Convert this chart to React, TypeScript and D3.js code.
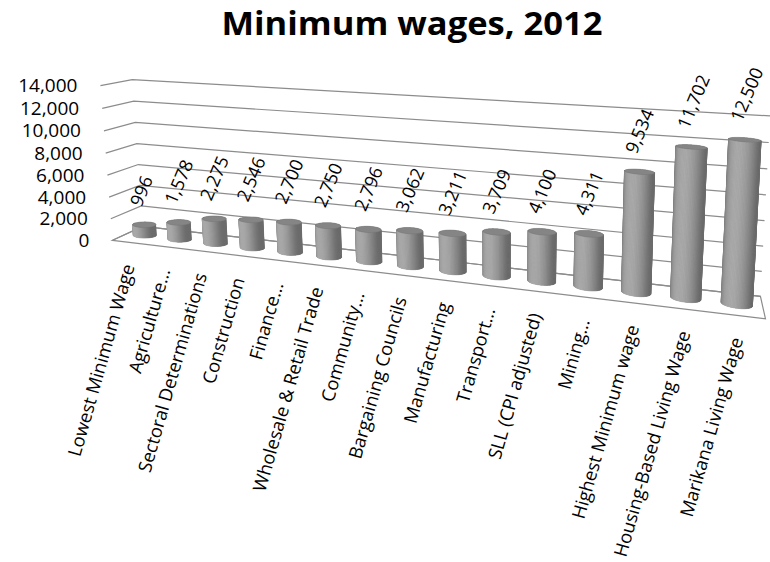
import React from "react";
import * as d3 from "d3";

const title = "Minimum wages, 2012";
const categories = [
  "Lowest Minimum Wage",
  "Agriculture…",
  "Sectoral Determinations",
  "Construction",
  "Finance…",
  "Wholesale & Retail Trade",
  "Community…",
  "Bargaining Councils",
  "Manufacturing",
  "Transport…",
  "SLL (CPI adjusted)",
  "Mining…",
  "Highest Minimum wage",
  "Housing-Based Living Wage",
  "Marikana Living Wage",
];
const values = [996, 1578, 2275, 2546, 2700, 2750, 2796, 3062, 3211, 3709, 4100, 4311, 9534, 11702, 12500];
const yTicks = [0, 2000, 4000, 6000, 8000, 10000, 12000, 14000];

// Plot box in world units: x = category slots (0..15), y = thousands (0..14), z = depth.
const DEPTH = 1.6;
const RADIUS = 0.3;

// Homogeneous 3x4 perspective camera for the plot box.
const CAMERA = [
  [33.1193, -1.07625, 23.841, 112.476],
  [0.897543, -11.2283, -0.866959, 240.287],
  [-0.0136048, -0.0021645, 0.0346512, 1],
];

function project(x: number, y: number, z: number): [number, number] {
  const [r0, r1, r2] = CAMERA;
  const w = r2[0] * x + r2[1] * y + r2[2] * z + r2[3];
  return [(r0[0] * x + r0[1] * y + r0[2] * z + r0[3]) / w, (r1[0] * x + r1[1] * y + r1[2] * z + r1[3]) / w];
}

const FONT = "'Open Sans', 'DejaVu Sans', sans-serif";

export default function App() {
  const band = d3.scaleBand<string>().domain(categories).range([0, 15]).padding(0);
  const yWorld = d3.scaleLinear().domain([0, 14000]).range([0, 14]);
  const fmt = d3.format(",");
  const line = d3.line();

  const grid = yTicks.map((t) => {
    const y = yWorld(t);
    return line([project(0, y, 0), project(0, y, DEPTH), project(15, y, DEPTH)]) as string;
  });
  const floor = line([project(0, 0, 0), project(15, 0, 0), project(15, 0, DEPTH), project(0, 0, DEPTH)]) + "Z";

  const N = 72;
  const cz = DEPTH / 2;
  const light = [-0.45, -1];
  const ll = Math.hypot(light[0], light[1]);

  const cylinders = categories.map((c, i) => {
    const cx = (band(c) as number) + band.bandwidth() / 2;
    const r = RADIUS * band.bandwidth();
    const h = yWorld(values[i]);
    const angles = d3.range(N + 1).map((k) => (k / N) * Math.PI * 2);
    const bot = angles.map((a) => project(cx + r * Math.cos(a), 0, cz + r * Math.sin(a)));
    const top = angles.map((a) => project(cx + r * Math.cos(a), h, cz + r * Math.sin(a)));
    const hull = d3.polygonHull([...bot, ...top]) as [number, number][];
    const faces: { d: string; fill: string }[] = [];
    for (let k = 0; k < N; k++) {
      const am = (angles[k] + angles[k + 1]) / 2;
      const nx = Math.cos(am), nz = Math.sin(am);
      if (nz > 0.15) continue;
      const quad: [number, number][] = [bot[k], bot[k + 1], top[k + 1], top[k]];
      const dot = Math.max(0, (nx * light[0] + nz * light[1]) / ll);
      const g = Math.round(108 + 62 * Math.pow(dot, 1.6));
      faces.push({ d: line(quad) + "Z", fill: `rgb(${g},${g},${g})` });
    }
    return {
      key: c,
      hull: line(hull) + "Z",
      faces,
      cap: line(top) + "Z",
      topCenter: project(cx, h, cz),
      front: project(cx, 0, 0),
    };
  });

  return (
    <svg width={770} height={562} style={{ position: "absolute", left: 0, top: 0, background: "#fff" }}>
      <text
        x={412}
        y={35}
        textAnchor="middle"
        fontFamily={FONT}
        fontWeight={700}
        fontSize={33}
        textLength={381}
        lengthAdjust="spacingAndGlyphs"
        fill="#000"
      >
        {title}
      </text>
      <g fill="none" stroke="#8c8c8c" strokeWidth={1.2}>
        {grid.map((d, i) => (
          <path key={i} d={d} />
        ))}
        <path d={floor} />
      </g>
      <g fontFamily={FONT} fontSize={19} fill="#000" textAnchor="end">
        {yTicks.map((t) => {
          const [u, v] = project(0, yWorld(t), 0);
          return (
            <text key={t} x={u - 23} y={v} dy="0.35em">
              {fmt(t)}
            </text>
          );
        })}
      </g>
      {cylinders.map((cy) => (
        <g key={cy.key}>
          <path d={cy.hull} fill="#7a7a7a" />
          {cy.faces.map((f, k) => (
            <path key={k} d={f.d} fill={f.fill} stroke={f.fill} strokeWidth={0.6} />
          ))}
          <path d={cy.cap} fill="#858585" stroke="#777" strokeWidth={0.5} />
        </g>
      ))}
      <g fontFamily={FONT} fontSize={18} fill="#000">
        {cylinders.map((cy, i) => (
          <text key={cy.key} transform={`translate(${cy.topCenter[0] - 3},${cy.topCenter[1] - 17}) rotate(-67)`}>
            {fmt(values[i])}
          </text>
        ))}
      </g>
      <g fontFamily={FONT} fontSize={18.3} fill="#000" textAnchor="end">
        {cylinders.map((cy) => (
          <text key={cy.key} transform={`translate(${cy.front[0] + 5},${cy.front[1] + 24}) rotate(-74)`}>
            {cy.key}
          </text>
        ))}
      </g>
    </svg>
  );
}
